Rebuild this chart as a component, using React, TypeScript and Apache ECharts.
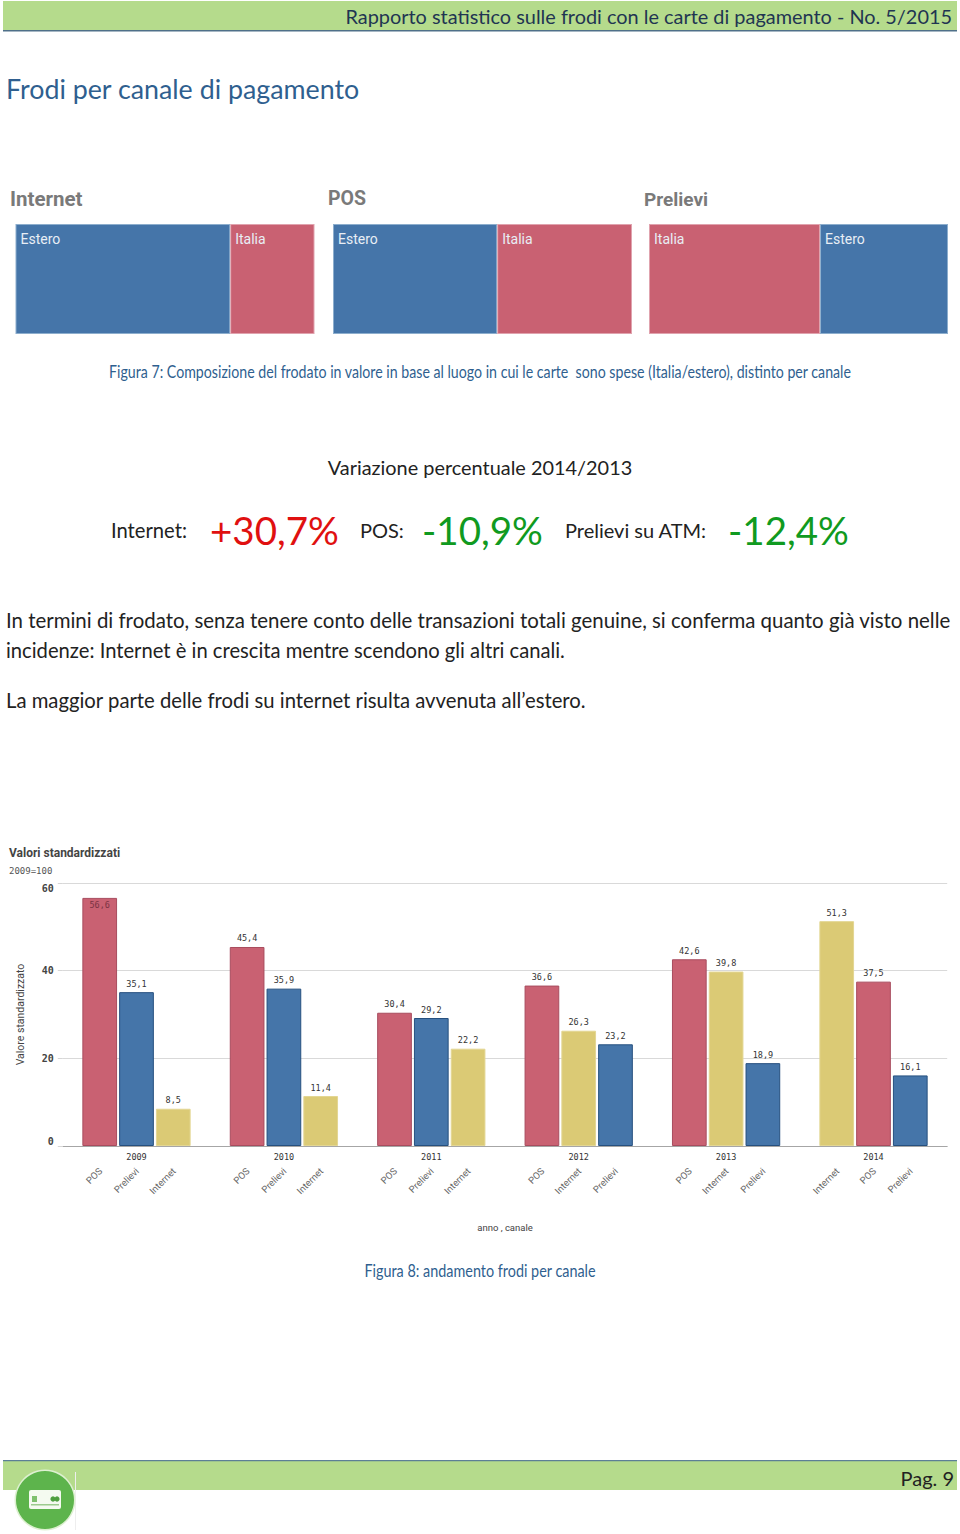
import React, { useEffect, useRef } from "react";
import * as echarts from "echarts";

const years = ["2009", "2010", "2011", "2012", "2013", "2014"];
const channels1 = ["POS", "POS", "POS", "POS", "POS", "Internet"];
const channels2 = ["Prelievi", "Prelievi", "Prelievi", "Internet", "Internet", "POS"];
const channels3 = ["Internet", "Internet", "Internet", "Prelievi", "Prelievi", "Prelievi"];
const values1 = [56.6, 45.4, 30.4, 36.6, 42.6, 51.3];
const values2 = [35.1, 35.9, 29.2, 26.3, 39.8, 37.5];
const values3 = [8.5, 11.4, 22.2, 23.2, 18.9, 16.1];
const baseline = [0, 0, 0, 0, 0, 0];
const yTicks = { min: 0, max: 60, interval: 20 };

const internetSplit = [{ name: "Estero", value: 71.8 }, { name: "Italia", value: 28.2 }];
const posSplit = [{ name: "Estero", value: 54.9 }, { name: "Italia", value: 45.1 }];
const prelieviSplit = [{ name: "Italia", value: 57.2 }, { name: "Estero", value: 42.8 }];

const RED = "#C96172";
const BLUE = "#4575A9";
const YELLOW = "#DBCA75";
const channelStyle: Record<string, { color: string; borderColor: string }> = {
  POS: { color: RED, borderColor: "#A84C5E" },
  Prelievi: { color: BLUE, borderColor: "#26507F" },
  Internet: { color: YELLOW, borderColor: "#E3D693" },
};
const placeStyle: Record<string, { color: string; borderColor: string }> = {
  Estero: { color: BLUE, borderColor: "#8DAECD" },
  Italia: { color: RED, borderColor: "#E0A3AE" },
};

const DOC = "Lato";
const MONO = "'DejaVu Sans Mono'";
const SANS = "Roboto";
const GREEN_BAR = "#B5DB8C";
const TITLE_BLUE = "#2F5F8F";
const LABEL_GREY = "#7A7A7A";

const txt = (text: string, x: number, y: number, fontSize: number, extra: any = {}, scaleX = 1) => ({
  type: "text",
  x,
  y,
  scaleX,
  silent: true,
  style: {
    text,
    fontSize,
    fontFamily: DOC,
    fill: "#222222",
    align: "left",
    verticalAlign: "middle",
    ...extra,
  },
});

const treemap = (name: string, data: any[], left: number) => ({
  type: "treemap",
  name,
  left,
  top: 224,
  width: 299,
  height: 110,
  roam: false,
  nodeClick: false,
  breadcrumb: { show: false },
  squareRatio: 1,
  sort: "desc",
  itemStyle: { gapWidth: 0, borderWidth: 0 },
  label: {
    show: true,
    position: [-1, 2],
    color: "#E8EEF5",
    fontFamily: SANS,
    fontSize: 14,
    formatter: "{b}",
  },
  data: data.map((d) => ({
    ...d,
    itemStyle: { ...placeStyle[d.name], borderWidth: 1 },
  })),
});

const barSeries = (name: string, values: number[], chans: string[]) => ({
  type: "bar",
  name,
  xAxisIndex: 0,
  yAxisIndex: 0,
  barWidth: 34.7,
  barGap: "6%",
  data: values.map((v, i) => ({
    value: v,
    itemStyle: { ...channelStyle[chans[i]], borderWidth: 1 },
    ...(v > 55
      ? { label: { position: "insideTop", color: "#7A3343", distance: 3 } }
      : {}),
  })),
  label: {
    show: true,
    position: "top",
    distance: 4,
    fontFamily: MONO,
    fontSize: 8.5,
    color: "#333333",
    formatter: (p: any) => String(p.value).replace(".", ","),
  },
});

const channelLabelSeries = (name: string, chans: string[]) => ({
  type: "bar",
  name,
  xAxisIndex: 1,
  yAxisIndex: 0,
  barWidth: 34.7,
  barGap: "6%",
  silent: true,
  itemStyle: { color: "transparent" },
  data: baseline.map((v, i) => ({
    value: v,
    label: { formatter: chans[i] },
  })),
  label: {
    show: true,
    position: "bottom",
    distance: 24,
    rotate: 45,
    align: "right",
    verticalAlign: "middle",
    offset: [1, 0],
    fontFamily: SANS,
    fontSize: 9.5,
    color: "#666666",
  },
});

const graphics: any[] = [
  // page bands
  { type: "rect", shape: { x: 3, y: 1, width: 954, height: 29 }, style: { fill: GREEN_BAR }, silent: true },
  { type: "rect", shape: { x: 3, y: 30, width: 954, height: 1.5 }, style: { fill: "#4F7089" }, silent: true },
  { type: "rect", shape: { x: 3, y: 1461, width: 954, height: 29 }, style: { fill: GREEN_BAR }, silent: true },
  { type: "rect", shape: { x: 3, y: 1460, width: 954, height: 1.2 }, style: { fill: "#5C7F96" }, silent: true },
  { type: "rect", shape: { x: 75, y: 1472, width: 1, height: 58 }, style: { fill: "#EEEEEE" }, silent: true },

  txt("Rapporto statistico sulle frodi con le carte di pagamento - No. 5/2015", 952, 15.5, 19.9, { align: "right", fill: "#1F3552" }),
  txt("Frodi per canale di pagamento", 6, 89, 26.8, { fill: TITLE_BLUE }),

  txt("Internet", 10, 199, 20.5, { fontFamily: SANS, fontWeight: "bold", fill: LABEL_GREY }),
  txt("POS", 328, 198, 19.5, { fontFamily: SANS, fontWeight: "bold", fill: LABEL_GREY }),
  txt("Prelievi", 644, 199, 19, { fontFamily: SANS, fontWeight: "bold", fill: LABEL_GREY }),

  txt("Figura 7: Composizione del frodato in valore in base al luogo in cui le carte  sono spese (Italia/estero), distinto per canale", 480, 372, 16.5, { align: "center", fill: TITLE_BLUE }, 0.86),
  txt("Variazione percentuale 2014/2013", 480, 466.5, 19.9, { align: "center" }),
  txt("Internet:", 111, 529.5, 20.2),
  txt("+30,7%", 210, 529.5, 38.5, { fill: "#E01010" }),
  txt("POS:", 360, 529.5, 20),
  txt("-10,9%", 422, 529.5, 38.5, { fill: "#109A20" }),
  txt("Prelievi su ATM:", 565, 529.5, 20),
  txt("-12,4%", 728, 529.5, 38.5, { fill: "#109A20" }),

  txt("In termini di frodato, senza tenere conto delle transazioni totali genuine, si conferma quanto già visto nelle", 6, 619.5, 20.43),
  txt("incidenze: Internet è in crescita mentre scendono gli altri canali.", 6, 649.5, 20.2),
  txt("La maggior parte delle frodi su internet risulta avvenuta all’estero.", 6, 699.5, 20.3),

  txt("Valori standardizzati", 9, 853, 12, { fontFamily: SANS, fontWeight: "bold", fill: "#444444" }),
  txt("2009=100", 9, 871, 9, { fontFamily: MONO, fill: "#555555" }),

  txt("Figura 8: andamento frodi per canale", 480, 1271, 16.5, { align: "center", fill: TITLE_BLUE }, 0.873),
  txt("Pag. 9", 954, 1477.5, 20, { align: "right" }),

  // logo
  { type: "circle", shape: { cx: 45, cy: 1500, r: 30.5 }, style: { fill: "#DDF0D0" }, silent: true },
  { type: "circle", shape: { cx: 45, cy: 1500, r: 29 }, style: { fill: "#5DB44C" }, silent: true },
  { type: "rect", shape: { x: 29, y: 1490, width: 32, height: 19, r: 2 }, style: { fill: "#F4FAF0" }, silent: true },
  { type: "rect", shape: { x: 32, y: 1496, width: 5, height: 6 }, style: { fill: "#7FC06E" }, silent: true },
  { type: "circle", shape: { cx: 53, cy: 1499, r: 2.6 }, style: { fill: "#4E9F3F" }, silent: true },
  { type: "circle", shape: { cx: 57, cy: 1499, r: 2.6 }, style: { fill: "#4E9F3F" }, silent: true },
  { type: "rect", shape: { x: 31, y: 1504, width: 28, height: 1.5 }, style: { fill: "#9CCB8E" }, silent: true },
];

export default function App() {
  const ref = useRef<HTMLDivElement>(null);
  useEffect(() => {
    document.body.style.margin = "0";
    const chart = echarts.init(ref.current!, undefined, { renderer: "svg" });
    chart.setOption({
      animation: false,
      backgroundColor: "#FFFFFF",
      grid: { left: 62.8, top: 883, width: 884.4, height: 263, containLabel: false },
      xAxis: [
        {
          type: "category",
          data: years,
          name: "anno , canale",
          nameLocation: "middle",
          nameGap: 76,
          nameTextStyle: { fontFamily: SANS, fontSize: 9.5, color: "#444444" },
          axisTick: { show: false },
          axisLine: { lineStyle: { color: "#A6A6A6", width: 1 } },
          axisLabel: { margin: 6, fontFamily: MONO, fontSize: 8.5, color: "#333333" },
        },
        { type: "category", data: years, show: false },
      ],
      yAxis: {
        type: "value",
        min: yTicks.min,
        max: yTicks.max,
        interval: yTicks.interval,
        name: "Valore standardizzato",
        nameLocation: "middle",
        nameGap: 37,
        nameTextStyle: { fontFamily: SANS, fontSize: 10.5, color: "#444444" },
        axisLine: { show: false },
        axisTick: { show: true, length: 5, lineStyle: { color: "#D6D6D6" } },
        splitLine: { lineStyle: { color: "#D9D9D9", width: 1 } },
        axisLabel: {
          margin: 9,
          fontFamily: MONO,
          fontWeight: "bold",
          fontSize: 10,
          color: "#444444",
          verticalAlignMinLabel: "bottom",
          verticalAlignMaxLabel: "top",
        },
      },
      series: [
        barSeries("Primo canale", values1, channels1),
        barSeries("Secondo canale", values2, channels2),
        barSeries("Terzo canale", values3, channels3),
        channelLabelSeries("Etichette primo", channels1),
        channelLabelSeries("Etichette secondo", channels2),
        channelLabelSeries("Etichette terzo", channels3),
        treemap("Internet", internetSplit, 15.5),
        treemap("POS", posSplit, 333),
        treemap("Prelievi", prelieviSplit, 649),
      ],
      graphic: { elements: graphics },
    });
    return () => chart.dispose();
  }, []);
  return (
    <div
      ref={ref}
      style={{ position: "absolute", left: 0, top: 0, width: 960, height: 1534 }}
    />
  );
}
